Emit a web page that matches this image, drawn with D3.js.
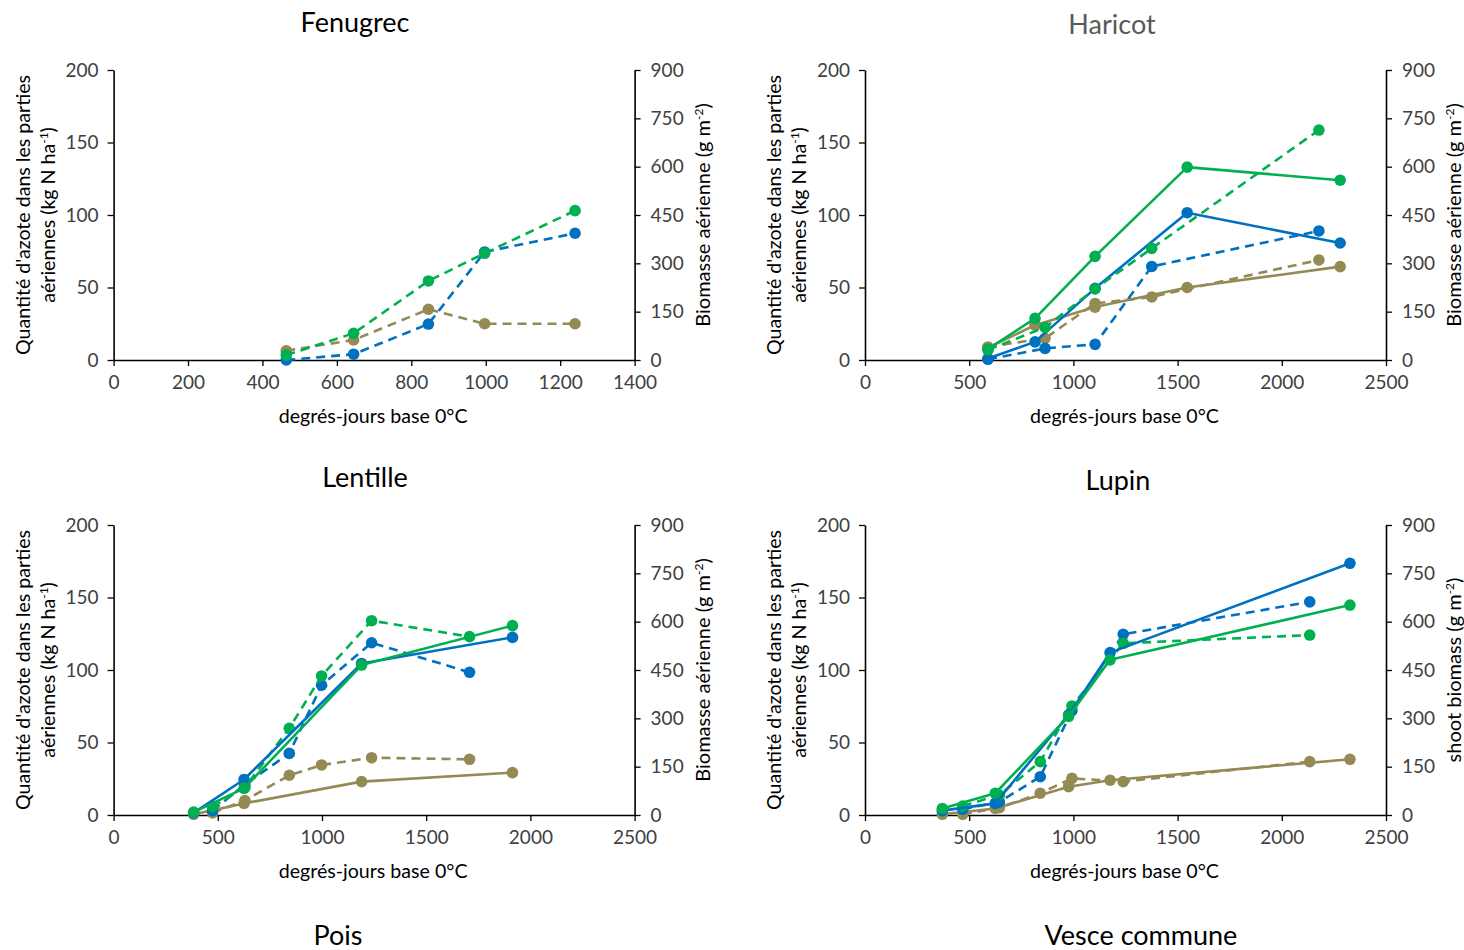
<!DOCTYPE html>
<html><head><meta charset="utf-8">
<script src="https://cdn.jsdelivr.net/npm/d3@7"></script>
<style>
body{margin:0;background:#fff;}
text{font-family:Lato,"Open Sans",sans-serif;}
</style>
</head><body>
<svg id="chart" width="1464" height="950"></svg>
<script>
// ---------- DATA (x: degrés-jours base 0°C, y: kg N ha-1 on left axis scale) ----------
const panelTitles = ["Fenugrec", "Haricot", "Lentille", "Lupin"];
const bottomTitles = ["Pois", "Vesce commune"];
const xLabel = "degrés-jours base 0°C";
const leftTicks = [0, 50, 100, 150, 200];
const rightTicks = [0, 150, 300, 450, 600, 750, 900];
const xTicksFenugrec = [0, 200, 400, 600, 800, 1000, 1200, 1400];
const xTicksOther = [0, 500, 1000, 1500, 2000, 2500];

// Fenugrec (dashed only)
const fenuDashX = [464, 645, 846, 997, 1240];
const fenuBlueDash = [0, 4, 24.8, 74.5, 87.4];
const fenuGreenDash = [3.4, 18.4, 54.5, 73.6, 103];
const fenuBrownDash = [6.4, 13.8, 35, 25, 25];

// Haricot
const hariSolidX = [590, 816, 1104, 1546, 2280];
const hariBlueSolid = [1, 12.5, 49.4, 101.6, 80.7];
const hariGreenSolid = [7.5, 28.7, 71.5, 133, 124];
const hariBrownSolid = [8.5, 24, 36.5, 50, 64.4];
const hariDashX = [590, 864, 1104, 1376, 2178];
const hariBlueDash = [0.5, 8, 10.8, 64.5, 89];
const hariGreenDash = [7, 22.5, 49, 77, 158.6];
const hariBrownDash = [9, 15, 39, 43.5, 69];

// Lentille
const lentSolidX = [384, 626, 1190, 1914];
const lentBlueSolid = [1.5, 24.5, 104.5, 122.5];
const lentGreenSolid = [2, 18.4, 103.4, 130.6];
const lentBrownSolid = [0.5, 8, 23, 29.2];
const lentDashX = [475, 630, 843, 998, 1238, 1708];
const lentBlueDash = [3, 21, 42.5, 89.5, 118.8, 98.4];
const lentGreenDash = [5.7, 19, 59.8, 95.9, 134, 123];
const lentBrownDash = [1.5, 10, 27.4, 34.5, 39.5, 38.4];

// Lupin
const lupSolidX = [371, 625, 977, 1176, 2327];
const lupBlueSolid = [3, 8, 69, 112, 173.6];
const lupGreenSolid = [4.5, 15, 68, 107, 144.8];
const lupBrownSolid = [0.5, 4.5, 19.5, 24, 38.4];
const lupDashX = [469, 645, 841, 993, 1239, 2134];
const lupBlueDash = [4, 9, 26.4, 72, 124.6, 147];
const lupGreenDash = [6.2, 13.8, 36.8, 75.2, 118.4, 124.1];
const lupBrownDash = [0.5, 5, 15, 25.3, 23, 36.8];

const colors = {blue: "#0070C0", green: "#00B050", brown: "#948A54"};

// ---------- LAYOUT ----------
const svg = d3.select("#chart");
svg.append("rect").attr("width", 1464).attr("height", 950).attr("fill", "#fff");

const panels = [
  {left: 113.6, top: 70, w: 521, h: 290, xMax: 1400, xTicks: xTicksFenugrec,
   title: panelTitles[0], titleX: 355, titleY: 32, titleColor: "#000",
   rightTitle: "Biomasse aérienne",
   series: [
     {x: fenuDashX, y: fenuBrownDash, c: colors.brown, dash: true},
     {x: fenuDashX, y: fenuBlueDash, c: colors.blue, dash: true},
     {x: fenuDashX, y: fenuGreenDash, c: colors.green, dash: true}
   ]},
  {left: 865, top: 70, w: 521, h: 290, xMax: 2500, xTicks: xTicksOther,
   title: panelTitles[1], titleX: 1112, titleY: 34, titleColor: "#595959",
   rightTitle: "Biomasse aérienne",
   series: [
     {x: hariDashX, y: hariBrownDash, c: colors.brown, dash: true},
     {x: hariSolidX, y: hariBrownSolid, c: colors.brown, dash: false},
     {x: hariDashX, y: hariBlueDash, c: colors.blue, dash: true},
     {x: hariSolidX, y: hariBlueSolid, c: colors.blue, dash: false},
     {x: hariDashX, y: hariGreenDash, c: colors.green, dash: true},
     {x: hariSolidX, y: hariGreenSolid, c: colors.green, dash: false}
   ]},
  {left: 113.6, top: 525, w: 521, h: 290, xMax: 2500, xTicks: xTicksOther,
   title: panelTitles[2], titleX: 365, titleY: 487, titleColor: "#000",
   rightTitle: "Biomasse aérienne",
   series: [
     {x: lentDashX, y: lentBrownDash, c: colors.brown, dash: true},
     {x: lentSolidX, y: lentBrownSolid, c: colors.brown, dash: false},
     {x: lentDashX, y: lentBlueDash, c: colors.blue, dash: true},
     {x: lentDashX, y: lentGreenDash, c: colors.green, dash: true},
     {x: lentSolidX, y: lentBlueSolid, c: colors.blue, dash: false},
     {x: lentSolidX, y: lentGreenSolid, c: colors.green, dash: false}
   ]},
  {left: 865, top: 525, w: 521, h: 290, xMax: 2500, xTicks: xTicksOther,
   title: panelTitles[3], titleX: 1118, titleY: 490, titleColor: "#000",
   rightTitle: "shoot biomass",
   series: [
     {x: lupDashX, y: lupBrownDash, c: colors.brown, dash: true},
     {x: lupSolidX, y: lupBrownSolid, c: colors.brown, dash: false},
     {x: lupDashX, y: lupBlueDash, c: colors.blue, dash: true},
     {x: lupDashX, y: lupGreenDash, c: colors.green, dash: true},
     {x: lupSolidX, y: lupBlueSolid, c: colors.blue, dash: false},
     {x: lupSolidX, y: lupGreenSolid, c: colors.green, dash: false}
   ]}
];

const fontTick = 19, fontLabel = 19.6, fontRight = 20, fontTitle = 27;

panels.forEach(p => {
  const g = svg.append("g").attr("transform", `translate(${p.left},${p.top})`);
  const x = d3.scaleLinear().domain([0, p.xMax]).range([0, p.w]);
  const y = d3.scaleLinear().domain([0, 200]).range([p.h, 0]);
  const y2 = d3.scaleLinear().domain([0, 900]).range([p.h, 0]);

  const styleAxis = sel => {
    sel.select(".domain").attr("stroke", "#000").attr("stroke-width", 1.6);
    sel.selectAll(".tick line").attr("stroke", "#000").attr("stroke-width", 1.3);
    sel.selectAll(".tick text").attr("fill", "#404040")
      .style("font-size", fontTick + "px").style("font-family", "Lato, 'Open Sans', sans-serif");
  };
  g.append("g").attr("transform", `translate(0,${p.h})`)
    .call(d3.axisBottom(x).tickValues(p.xTicks).tickSize(6).tickSizeOuter(0).tickPadding(10).tickFormat(d3.format("d")))
    .call(styleAxis);
  g.append("g")
    .call(d3.axisLeft(y).tickValues(leftTicks).tickSize(6).tickSizeOuter(0).tickPadding(9))
    .call(styleAxis);
  g.append("g").attr("transform", `translate(${p.w},0)`)
    .call(d3.axisRight(y2).tickValues(rightTicks).tickSize(6).tickSizeOuter(0).tickPadding(10))
    .call(styleAxis);

  const line = d3.line().x(d => x(d[0])).y(d => y(d[1]));
  p.series.forEach(s => {
    const pts = s.x.map((xv, i) => [xv, s.y[i]]);
    g.append("path").datum(pts)
      .attr("d", line).attr("fill", "none")
      .attr("stroke", s.c).attr("stroke-width", 2.6)
      .attr("stroke-dasharray", s.dash ? "9,6" : null)
      .attr("stroke-linejoin", "round");
    g.selectAll(null).data(pts).enter().append("circle")
      .attr("cx", d => x(d[0])).attr("cy", d => y(d[1])).attr("r", 5.8)
      .attr("fill", s.c);
  });

  svg.append("text").attr("x", p.titleX).attr("y", p.titleY)
    .attr("text-anchor", "middle").attr("fill", p.titleColor)
    .style("font-size", fontTitle + "px").text(p.title);

  svg.append("text").attr("x", p.left + p.w / 2 - 1).attr("y", p.top + p.h + 63)
    .attr("text-anchor", "middle").attr("fill", "#000")
    .style("font-size", fontLabel + "px").text(xLabel);

  const cy = p.top + p.h / 2;
  const lx = p.left - 113.6;
  svg.append("text").attr("transform", `translate(${lx + 30},${cy}) rotate(-90)`)
    .attr("text-anchor", "middle").style("font-size", fontLabel + "px")
    .text("Quantité d'azote dans les parties");
  const t2 = svg.append("text").attr("transform", `translate(${lx + 55},${cy}) rotate(-90)`)
    .attr("text-anchor", "middle").style("font-size", fontLabel + "px");
  t2.append("tspan").text("aériennes (kg N ha");
  t2.append("tspan").attr("baseline-shift", "super").style("font-size", "12px").text("-1");
  t2.append("tspan").text(")");

  const t3 = svg.append("text").attr("transform", `translate(${p.left + p.w + 75},${cy}) rotate(-90)`)
    .attr("text-anchor", "middle").style("font-size", fontRight + "px");
  t3.append("tspan").text(p.rightTitle + " (g m");
  t3.append("tspan").attr("baseline-shift", "super").style("font-size", "12px").text("-2");
  t3.append("tspan").text(")");
});

svg.append("text").attr("x", 338).attr("y", 945).attr("text-anchor", "middle")
  .style("font-size", fontTitle + "px").text(bottomTitles[0]);
svg.append("text").attr("x", 1141).attr("y", 945).attr("text-anchor", "middle")
  .style("font-size", fontTitle + "px").text(bottomTitles[1]);
</script>
</body></html>
